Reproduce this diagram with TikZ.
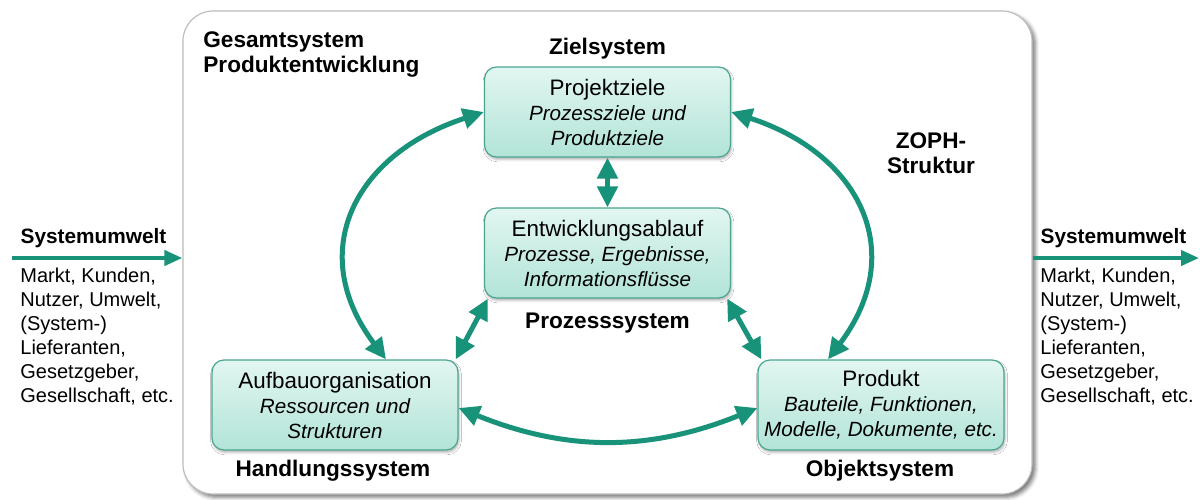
\documentclass[tikz,border=0pt]{standalone}
\usepackage{fontspec}
\setmainfont{Liberation Sans}
\usetikzlibrary{arrows.meta,shadows.blur}

\definecolor{zteal}{RGB}{24,147,122}
\definecolor{zborder}{RGB}{74,166,146}
\definecolor{boxtop}{RGB}{226,246,241}
\definecolor{boxbot}{RGB}{178,228,215}
\definecolor{frame}{RGB}{190,190,190}

\newcommand{\subline}[1]{{\fontsize{10.3}{12.5}\selectfont\itshape #1}}

\begin{document}
\begin{tikzpicture}[x=0.5pt,y=-0.5pt,
  outer/.style={draw=frame, line width=0.6pt, fill=white, rounded corners=15pt,
    minimum width=424.5pt, minimum height=241.5pt, inner sep=0pt,
    blur shadow={shadow xshift=1.6pt, shadow yshift=-1.6pt, shadow opacity=55, shadow blur radius=2pt}},
  zbox/.style={draw=zborder, line width=0.6pt, rounded corners=6pt,
    top color=boxtop, bottom color=boxbot,
    minimum width=123pt, minimum height=45pt, inner sep=0pt, align=center,
    font=\fontsize{11.2}{12.5}\selectfont,
    blur shadow={shadow xshift=0.5pt, shadow yshift=-1.2pt, shadow opacity=30, shadow blur radius=1.2pt}},
  lbl/.style={font=\bfseries\fontsize{11.3}{12.5}\selectfont, inner sep=0pt},
  envlbl/.style={font=\bfseries\fontsize{10.4}{12}\selectfont, inner sep=0pt},
  envtxt/.style={font=\fontsize{10}{12}\selectfont, inner sep=0pt, align=left},
  conn/.style={zteal, line width=2.5pt,
    {Triangle[length=10.5pt,width=10pt]}-{Triangle[length=10.5pt,width=10pt]}},
  envarrow/.style={zteal, line width=2pt, -{Triangle[length=9pt,width=7.5pt]}}
]
\useasboundingbox (0,0) rectangle (1200,499);

% overall system frame
\node[outer] (sys) at (607.5,252.5) {};

% the four subsystems
\node[zbox] (pz) at (607.5,112) {Projektziele\\\subline{Prozessziele und}\\\subline{Produktziele}};
\node[zbox] (ea) at (607.5,253) {Entwicklungsablauf\\\subline{Prozesse, Ergebnisse,}\\\subline{Informationsflüsse}};
\node[zbox] (ao) at (335,405) {Aufbauorganisation\\\subline{Ressourcen und}\\\subline{Strukturen}};
\node[zbox] (pr) at (881,405) {Produkt\\\subline{Bauteile, Funktionen,}\\\subline{Modelle, Dokumente, etc.}};

% headings
\node[lbl, anchor=north west, align=left] (gs) at (203,31.5) {Gesamtsystem\\Produktentwicklung};
\node[lbl, anchor=base] (zs) at (607.5,54) {Zielsystem};
\node[lbl, anchor=base] (ps) at (607.5,328) {Prozesssystem};
\node[lbl, anchor=base] (hs) at (333,476) {Handlungssystem};
\node[lbl, anchor=base] (os) at (880,476) {Objektsystem};
\node[lbl, align=center, anchor=north] (zoph) at (931,132) {ZOPH-\\Struktur};

% relations between the subsystems
\draw[conn] (pz.south) -- (ea.north);
\draw[conn] (pz.west) to[out=198, in=127, looseness=1.3] ([xshift=25.5pt]ao.north);
\draw[conn] (pz.east) to[out=-18, in=53, looseness=1.3] ([xshift=-26.5pt]pr.north);
\draw[conn] ([xshift=2pt]ea.south west) -- ([xshift=-1.5pt]ao.north east);
\draw[conn] ([xshift=-2pt]ea.south east) -- ([xshift=2pt]pr.north west);
\draw[conn] ([yshift=-1.5pt]ao.east) to[out=-22, in=202] ([yshift=-1.5pt]pr.west);

% environment on both sides
\coordinate (inL) at (12,258);
\coordinate (outR) at (1199,258);
\draw[envarrow] (inL) -- (inL -| sys.west);
\draw[envarrow] (outR -| sys.east) -- (outR);

\node[envlbl, anchor=base] (suL) at (93.5,243) {Systemumwelt};
\node[envlbl, anchor=base] (suR) at (1113.5,243) {Systemumwelt};
\node[envtxt, anchor=north west] (envL) at (20,268) {Markt, Kunden,\\Nutzer, Umwelt,\\(System-)\\Lieferanten,\\Gesetzgeber,\\Gesellschaft, etc.};
\node[envtxt, anchor=north west] (envR) at (1040,268) {Markt, Kunden,\\Nutzer, Umwelt,\\(System-)\\Lieferanten,\\Gesetzgeber,\\Gesellschaft, etc.};
\end{tikzpicture}
\end{document}
